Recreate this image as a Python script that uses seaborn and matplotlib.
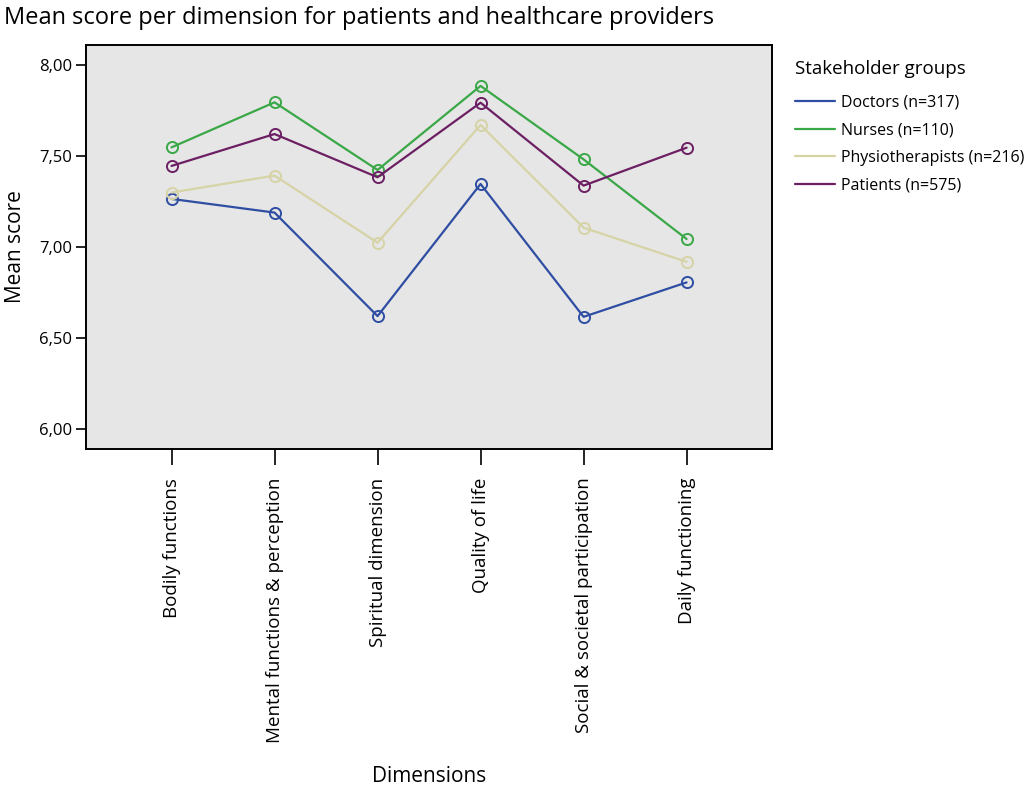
import pandas as pd
import matplotlib
matplotlib.use("Agg")
import matplotlib.pyplot as plt
import seaborn as sns

dimensions = [
    "Bodily functions",
    "Mental functions & perception",
    "Spiritual dimension",
    "Quality of life",
    "Social & societal participation",
    "Daily functioning",
]
groups = ["Doctors (n=317)", "Nurses (n=110)", "Physiotherapists (n=216)", "Patients (n=575)"]

doctors = [7.265, 7.19, 6.622, 7.347, 6.618, 6.807]
nurses = [7.548, 7.795, 7.424, 7.885, 7.482, 7.045]
physios = [7.30, 7.393, 7.025, 7.671, 7.107, 6.92]
patients = [7.446, 7.621, 7.384, 7.793, 7.338, 7.546]

yticks = [6.0, 6.5, 7.0, 7.5, 8.0]
ytick_labels = ["6,00", "6,50", "7,00", "7,50", "8,00"]

colors = ["#2f4ea3", "#3aa847", "#d6d3a6", "#6c1f63"]

records = []
for g, vals in zip(groups, [doctors, nurses, physios, patients]):
    for i, v in enumerate(vals):
        records.append({"pos": i, "score": v, "group": g})
df = pd.DataFrame.from_records(records)

sns.set_theme(style="white", rc={
    "text.color": "black",
    "axes.labelcolor": "black",
    "xtick.color": "black",
    "ytick.color": "black",
})
plt.rcParams["font.family"] = ["Open Sans", "DejaVu Sans"]

fig = plt.figure(figsize=(10.24, 7.88), dpi=100)
ax = fig.add_axes([0.084, 0.430, 0.670, 0.513])
ax.set_facecolor("#e6e6e6")

sns.lineplot(
    data=df, x="pos", y="score", hue="group", hue_order=groups,
    palette=colors, marker="o", markersize=8, markerfacecolor="none",
    markeredgewidth=1.4, linewidth=1.6, ax=ax, legend=False,
)
# recolor marker edges to match lines
for line in ax.lines:
    line.set_markeredgecolor(line.get_color())

ax.set_xlim(-0.83, 5.83)
ax.set_ylim(5.892, 8.11)
ax.set_xticks(range(len(dimensions)))
ax.set_xticklabels(dimensions, rotation=90, fontsize=13.5)
ax.set_yticks(yticks)
ax.set_yticklabels(ytick_labels, fontsize=12)
ax.tick_params(axis="x", direction="out", length=11.5, width=1.2, color="black", pad=9, bottom=True)
ax.tick_params(axis="y", direction="out", length=7, width=1.2, color="black", pad=3, left=True)

for sp in ax.spines.values():
    sp.set_visible(True)
    sp.set_color("black")
    sp.set_linewidth(1.4)

ax.set_xlabel("Dimensions", fontsize=15)
ax.set_ylabel("Mean score", fontsize=15)
ax.xaxis.set_label_coords(0.5, -0.785)
ax.yaxis.set_label_coords(-0.088, 0.5)

fig.text(0.004, 0.992, "Mean score per dimension for patients and healthcare providers",
         fontsize=17, ha="left", va="top")

handles = [plt.Line2D([], [], color=c, linewidth=1.6) for c in colors]
leg = fig.legend(
    handles, groups, title="Stakeholder groups", loc="upper left",
    bbox_to_anchor=(0.772, 0.93), frameon=False, fontsize=11.5,
    title_fontsize=13.5, handlelength=2.5, handletextpad=0.35, labelspacing=0.72,
    borderaxespad=0, borderpad=0.3,
)
leg._legend_box.align = "left"
leg._legend_box.sep = 12

fig.savefig("out.png", dpi=100)
